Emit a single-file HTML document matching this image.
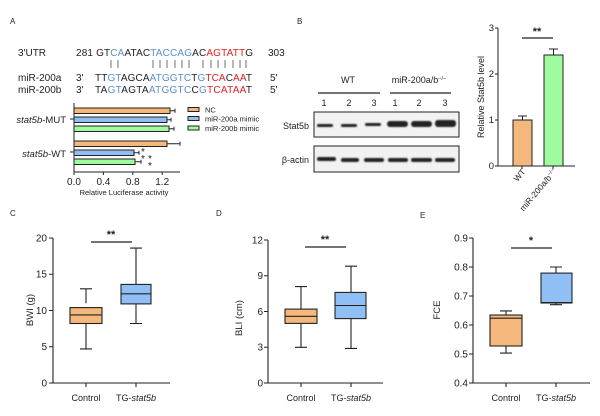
<!DOCTYPE html>
<html><head><meta charset="utf-8"><style>body{margin:0;background:#fff}svg{display:block}text{font-family:"Liberation Sans",sans-serif;fill:#222}</style></head><body>
<svg width="600" height="416" viewBox="0 0 600 416" xmlns="http://www.w3.org/2000/svg">
<defs><filter id="bl"><feGaussianBlur stdDeviation="0.9"/></filter></defs>
<g font-size="8">
<text x="10" y="24">A</text><text x="297" y="24">B</text><text x="10" y="216">C</text><text x="216" y="216">D</text><text x="420" y="218">E</text>
</g>
<!-- Panel A sequences -->
<g font-size="10">
<text x="18" y="56">3'UTR</text>
<text x="76" y="56" textLength="177" lengthAdjust="spacing">281 GT<tspan fill="#5b8ed0">CA</tspan>ATAC<tspan fill="#5b8ed0">TACCAG</tspan>AC<tspan fill="#e02020">AGTATT</tspan>G</text>
<text x="268" y="56">303</text>
<text x="18" y="81">miR-200a</text><text x="76" y="81">3'</text>
<text x="95" y="81" textLength="157" lengthAdjust="spacing">TT<tspan fill="#5b8ed0">GT</tspan>AGCA<tspan fill="#5b8ed0">ATGGTC</tspan>T<tspan fill="#5b8ed0">G</tspan><tspan fill="#e02020">TCA</tspan>C<tspan fill="#e02020">AA</tspan>T</text><text x="270" y="81">5'</text>
<text x="18" y="93">miR-200b</text><text x="76" y="93">3'</text>
<text x="95" y="93" textLength="157" lengthAdjust="spacing">TA<tspan fill="#5b8ed0">GT</tspan>AGTA<tspan fill="#5b8ed0">ATGGTC</tspan>C<tspan fill="#5b8ed0">G</tspan><tspan fill="#e02020">TCATAA</tspan>T</text><text x="270" y="93">5'</text>
</g>
<g stroke="#333" stroke-width="0.7">
<path d="M111 60v8M118 60v8M153 60v8M160 60v8M167 60v8M175 60v8M182 60v8M189 60v8M203 60v8M211 60v8M218 60v8M225 60v8M233 60v8M240 60v8M246 60v8"/>
</g>
<!-- A bar chart -->
<g stroke="#222" stroke-width="1">
<path d="M74 103V172H180M74 172v3M103.4 172v3M132.8 172v3M162.2 172v3M70 119h4M70 152h4" fill="none"/>
<rect x="74" y="108" width="96" height="5.5" fill="#f4b77c"/>
<rect x="74" y="117" width="93" height="5.5" fill="#8fbff5"/>
<rect x="74" y="126" width="95" height="5.5" fill="#9efc9e"/>
<rect x="74" y="141" width="93" height="5.5" fill="#f4b77c"/>
<rect x="74" y="150" width="60" height="5.5" fill="#8fbff5"/>
<rect x="74" y="159" width="61" height="5.5" fill="#9efc9e"/>
<path d="M170 110.7h5M175 108.7v4M167 119.7h4M171 117.7v4M169 128.7h5M174 126.7v4M167 143.7h13M180 141.7v4M134 152.7h5M139 150.7v4M135 161.7h6M141 159.7v4" stroke-width="1"/>
<rect x="188" y="107.5" width="11" height="4" fill="#f4b77c"/>
<rect x="188" y="116.5" width="11" height="4" fill="#8fbff5"/>
<rect x="188" y="126" width="11" height="4" fill="#9efc9e"/>
</g>
<g font-size="7.5"><text x="205" y="112.5">NC</text><text x="205" y="121.5">miR-200a mimic</text><text x="205" y="131">miR-200b mimic</text></g>
<g font-size="10"><text x="141" y="155">*</text><text x="141" y="162">*</text><text x="148" y="162">*</text><text x="148" y="169">*</text></g>
<g font-size="10" text-anchor="middle"><text x="74" y="185">0.0</text><text x="103.4" y="185">0.4</text><text x="132.8" y="185">0.8</text><text x="162.2" y="185">1.2</text></g>
<text x="124" y="195" font-size="7.5" text-anchor="middle">Relative Luciferase activity</text>
<g font-size="9.5" text-anchor="end"><text x="66" y="123"><tspan font-style="italic">stat5b</tspan>-MUT</text><text x="66" y="157"><tspan font-style="italic">stat5b</tspan>-WT</text></g>
<!-- B western -->
<g font-size="9" text-anchor="middle">
<text x="348" y="83">WT</text><text x="419" y="83">miR-200a/b<tspan font-size="5.5" dy="-3">−/−</tspan></text>
<text x="324" y="106">1</text><text x="349" y="106">2</text><text x="374" y="106">3</text><text x="395" y="106">1</text><text x="419" y="106">2</text><text x="445" y="106">3</text>
</g>
<path d="M318 93h62M390 93h61" stroke="#222" stroke-width="1.2"/>
<text x="309" y="129" font-size="9" text-anchor="end">Stat5b</text>
<text x="309" y="163" font-size="9" text-anchor="end">β-actin</text>
<rect x="314" y="112" width="145" height="25" fill="#f2f2f2" stroke="#222" stroke-width="1"/>
<rect x="314" y="146" width="145" height="26" fill="#f2f2f2" stroke="#222" stroke-width="1"/>
<g filter="url(#bl)" fill="#222">
<rect x="317" y="124" width="16" height="3" rx="1.5"/><rect x="341" y="124" width="16" height="3" rx="1.5"/><rect x="365" y="123" width="16" height="3" rx="1.5"/>
<rect x="387" y="121" width="21" height="6" rx="3"/><rect x="411" y="121" width="21" height="6" rx="3"/><rect x="435" y="120" width="21" height="7" rx="3"/>
<rect x="317" y="157" width="19" height="4" rx="2"/><rect x="341" y="158" width="18" height="4" rx="2"/><rect x="364" y="158" width="20" height="4" rx="2"/>
<rect x="388" y="158" width="20" height="4" rx="2"/><rect x="411" y="158" width="21" height="4" rx="2"/><rect x="435" y="158" width="20" height="4" rx="2"/>
</g>
<!-- B bar chart -->
<g stroke="#222" stroke-width="1" fill="none">
<path d="M498 28V166H575M495 28h3M495 74h3M495 120h3M495 166h3M522 166v3M553 166v3"/>
<rect x="513" y="120" width="19" height="46" fill="#f4b77c"/>
<rect x="544" y="55" width="19" height="111" fill="#9efc9e"/>
<path d="M522.5 120v-4M518 116h9M553.5 55v-6M549 49h9"/>
<path d="M522 38h31" stroke-width="1.2"/>
</g>
<text x="537" y="35" font-size="11" text-anchor="middle" font-weight="bold">**</text>
<g font-size="9.5" text-anchor="end"><text x="494" y="31">3</text><text x="494" y="77">2</text><text x="494" y="123">1</text><text x="494" y="169">0</text></g>
<text transform="translate(484,97) rotate(-90)" font-size="9" text-anchor="middle">Relative Stat5b  level</text>
<text transform="translate(526,172) rotate(-50)" font-size="8.5" text-anchor="end">WT</text>
<text transform="translate(557,172) rotate(-50)" font-size="8.5" text-anchor="end">miR-200a/b<tspan font-size="5.5" dy="-3">−/−</tspan></text>
<!-- C -->
<g stroke="#222" stroke-width="1.1" fill="none">
<path d="M53 238V383H170M49 238h4M49 274.25h4M49 310.5h4M49 346.75h4M49 383h4M86 383v4M136 383v4"/>
<path d="M86 348.9V322.7M86 303.3V288.8M80 348.9h12M80 288.8h12"/>
<rect x="70" y="307.6" width="32" height="15.9" fill="#f4b77c"/><path d="M70 314.9h32"/>
<path d="M136 323.5V300.6M136 284.0V248.1M130 323.5h12M130 248.1h12"/>
<rect x="121" y="284.4" width="30" height="19.5" fill="#8fbff5"/><path d="M121 293.8h30"/>
<path d="M91 242h41" stroke-width="1.2"/>
</g>
<text x="111" y="238" font-size="11" text-anchor="middle" font-weight="bold">**</text>
<g font-size="10" text-anchor="end"><text x="47" y="241.5">20</text><text x="47" y="277.5">15</text><text x="47" y="314">10</text><text x="47" y="350">5</text><text x="47" y="386.5">0</text></g>
<text transform="translate(33,310) rotate(-90)" font-size="9.5" text-anchor="middle">BWI (g)</text>
<g font-size="9" text-anchor="middle"><text x="86" y="401">Control</text><text x="136" y="401">TG-<tspan font-style="italic">stat5b</tspan></text></g>
<!-- D -->
<g stroke="#222" stroke-width="1.1" fill="none">
<path d="M268 240V383H383M264 240h4M264 275.75h4M264 311.5h4M264 347.25h4M264 383h4M301 383v4M351 383v4"/>
<path d="M301 347.3V323.4M301 309.1V286.6M295 347.3h12M295 286.6h12"/>
<rect x="285" y="309.1" width="32" height="14.3" fill="#f4b77c"/><path d="M285 316.3h32"/>
<path d="M351 348.4V318.6M351 292.4V266.2M345 348.4h12M345 266.2h12"/>
<rect x="335" y="292.4" width="31" height="26.2" fill="#8fbff5"/><path d="M335 305.5h31"/>
<path d="M305 247h41" stroke-width="1.2"/>
</g>
<text x="325" y="243" font-size="11" text-anchor="middle" font-weight="bold">**</text>
<g font-size="10" text-anchor="end"><text x="263" y="243.5">12</text><text x="263" y="279">9</text><text x="263" y="315">6</text><text x="263" y="350.5">3</text><text x="263" y="386.5">0</text></g>
<text transform="translate(242,318) rotate(-90)" font-size="9.5" text-anchor="middle">BLI (cm)</text>
<g font-size="9" text-anchor="middle"><text x="301" y="401">Control</text><text x="351" y="401">TG-<tspan font-style="italic">stat5b</tspan></text></g>
<!-- E -->
<g stroke="#222" stroke-width="1.1" fill="none">
<path d="M473 238V383H590M469 238h4M469 267h4M469 296h4M469 325h4M469 354h4M469 383h4M506 383v4M556 383v4"/>
<path d="M506 353.1V346.0M506 315.0V310.9M500 353.1h12M500 310.9h12"/>
<rect x="490" y="315.0" width="32" height="31.0" fill="#f4b77c"/><path d="M490 318.2h32"/>
<path d="M556 304.7V303.2M556 273.1V267M550 304.7h12M550 267h12"/>
<rect x="541" y="273.1" width="31" height="29.9" fill="#8fbff5"/><path d="M541 302.5h31"/>
<path d="M511 248h41" stroke-width="1.2"/>
</g>
<text x="531" y="244" font-size="11" text-anchor="middle" font-weight="bold">*</text>
<g font-size="10" text-anchor="end"><text x="468" y="241.5">0.9</text><text x="468" y="270.5">0.8</text><text x="468" y="299.5">0.7</text><text x="468" y="328.5">0.6</text><text x="468" y="357.5">0.5</text><text x="468" y="386.5">0.4</text></g>
<text transform="translate(440,310) rotate(-90)" font-size="9.5" text-anchor="middle">FCE</text>
<g font-size="9" text-anchor="middle"><text x="506" y="401">Control</text><text x="556" y="401">TG-<tspan font-style="italic">stat5b</tspan></text></g>
</svg>
</body></html>
